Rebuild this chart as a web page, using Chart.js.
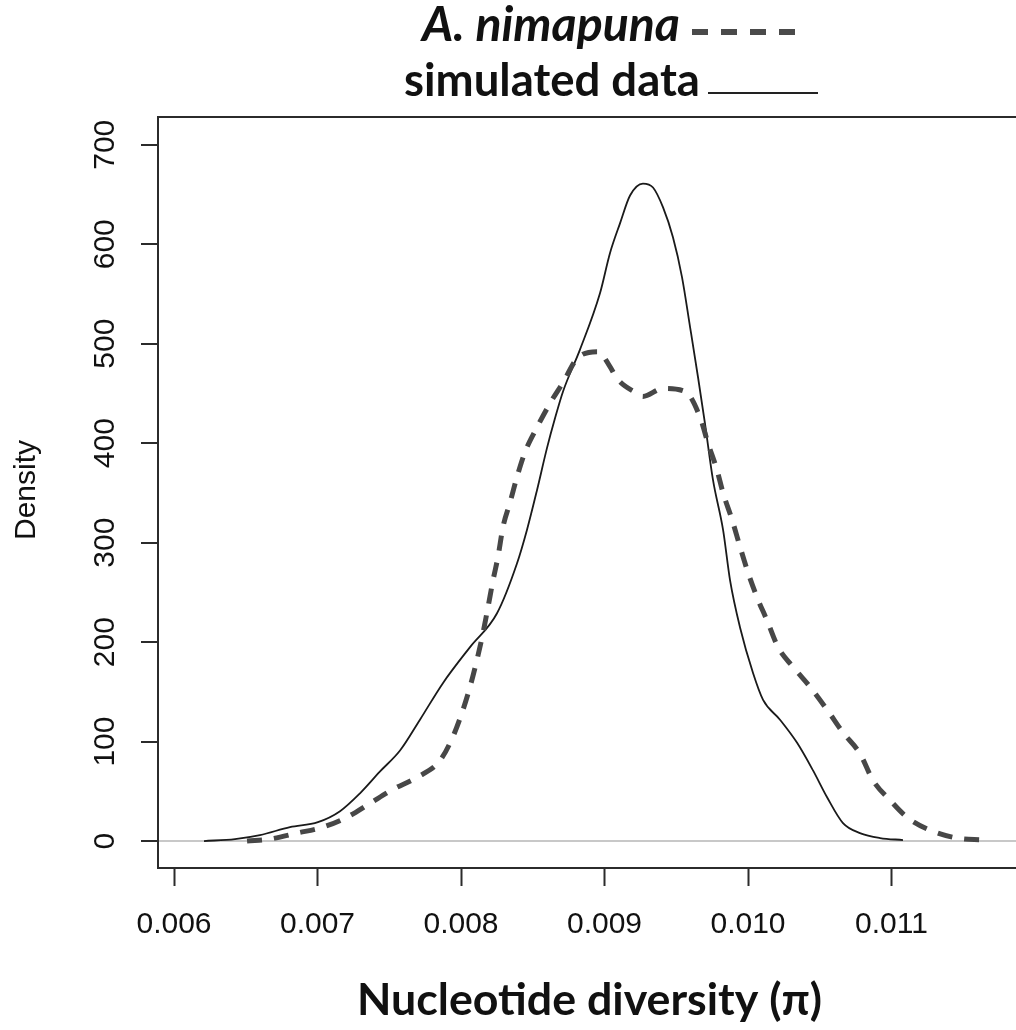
<!DOCTYPE html>
<html><head><meta charset="utf-8">
<script src="https://cdn.jsdelivr.net/npm/chart.js@4/dist/chart.umd.min.js"></script>
<style>
html,body{margin:0;padding:0;background:#fff;overflow:hidden;width:1016px;height:1030px}
#wrap{position:absolute;left:0;top:0;width:1050px;height:1030px}
</style>
</head><body><div id="wrap"><canvas id="c" width="1050" height="1030"></canvas></div>
<script>
// ---- data ----
const xTicks = [0.006, 0.007, 0.008, 0.009, 0.010, 0.011];
const xTickLabels = ['0.006', '0.007', '0.008', '0.009', '0.010', '0.011'];
const yTicks = [0, 100, 200, 300, 400, 500, 600, 700];
const yTickLabels = ['0', '100', '200', '300', '400', '500', '600', '700'];
const seriesNames = ['A. nimapuna', 'simulated data'];
const xTitle = 'Nucleotide diversity (\u03C0)';
const yTitle = 'Density';

const nimX = [0.006509,0.006669,0.006857,0.007038,0.007206,0.007366,0.007526,0.007693,0.007854,0.007944,0.008007,0.008063,0.008111,0.008153,0.008188,0.008223,0.008258,0.008293,0.008341,0.008390,0.008446,0.008530,0.008620,0.008711,0.008815,0.008955,0.009038,0.009087,0.009226,0.009268,0.009408,0.009561,0.009666,0.009721,0.009784,0.009826,0.009889,0.009944,0.010000,0.010063,0.010132,0.010209,0.010314,0.010432,0.010551,0.010662,0.010780,0.010871,0.010990,0.011108,0.011268,0.011456,0.011638];
const nimY = [0,2,8,14,24,38,52,64,81,105,129,155,182,209,235,262,286,316,340,366,391,416,440,461,486,492,477,465,450,447,455,452,426,400,373,350,323,296,270,245,222,195,175,155,132,109,88,61,41,24,11,3,1];

const simX = [0.006209,0.006425,0.006599,0.006808,0.007003,0.007157,0.007296,0.007436,0.007575,0.007714,0.007875,0.008063,0.008251,0.008390,0.008460,0.008530,0.008599,0.008655,0.008711,0.008829,0.008969,0.009038,0.009108,0.009178,0.009268,0.009338,0.009408,0.009477,0.009540,0.009596,0.009652,0.009700,0.009756,0.009826,0.009875,0.009944,0.010035,0.010105,0.010223,0.010341,0.010453,0.010551,0.010662,0.010780,0.010920,0.011080];
const simY = [0,2,6,14,19,30,48,70,91,122,159,195,229,279,313,353,395,425,452,494,551,591,621,649,661,657,637,607,567,517,466,420,363,313,262,215,169,142,122,99,71,44,18,8,3,1];

// ---- styling ----
const TICK_FONT = '30px "Liberation Sans", Arial, sans-serif';
const TITLE_FAMILY = 'Lato, "Open Sans", sans-serif';
const INK = '#111111';

function fitFont(ctx, text, prefix, target) {
  ctx.font = prefix + ' 100px ' + TITLE_FAMILY;
  const w = ctx.measureText(text).width;
  return prefix + ' ' + (100 * target / w).toFixed(2) + 'px ' + TITLE_FAMILY;
}

const decor = {
  id: 'decor',
  beforeDatasetsDraw(chart) {
    const {ctx, chartArea: a} = chart;
    ctx.save();
    ctx.strokeStyle = '#2b2b2b';
    ctx.lineWidth = 2;
    ctx.strokeRect(a.left, a.top, a.right - a.left, a.bottom - a.top);
    ctx.restore();
  },
  afterDraw(chart) {
    const {ctx} = chart;
    const ys = chart.scales.y;
    ctx.save();
    ctx.fillStyle = INK;
    // rotated y tick labels
    ctx.font = TICK_FONT;
    ctx.textAlign = 'center';
    ctx.textBaseline = 'alphabetic';
    yTicks.forEach((v, i) => {
      const py = ys.getPixelForValue(v);
      ctx.save();
      ctx.translate(114, py);
      ctx.rotate(-Math.PI / 2);
      ctx.fillText(yTickLabels[i], 0, 0);
      ctx.restore();
    });
    // y title
    ctx.save();
    ctx.translate(35, 490);
    ctx.rotate(-Math.PI / 2);
    ctx.fillText(yTitle, 0, 0);
    ctx.restore();
    // x title
    ctx.textAlign = 'left';
    ctx.font = fitFont(ctx, xTitle, 'bold', 465);
    ctx.fillText(xTitle, 357, 1015);
    // legend-title line 1
    ctx.font = fitFont(ctx, seriesNames[0], 'italic bold', 258);
    ctx.fillText(seriesNames[0], 422, 41);
    ctx.strokeStyle = '#4a4a4a';
    ctx.lineWidth = 6;
    ctx.setLineDash([16, 13]);
    ctx.beginPath(); ctx.moveTo(692, 32); ctx.lineTo(808, 32); ctx.stroke();
    // legend-title line 2
    ctx.setLineDash([]);
    ctx.font = fitFont(ctx, seriesNames[1], 'bold', 296);
    ctx.fillText(seriesNames[1], 404, 96);
    ctx.strokeStyle = '#222';
    ctx.lineWidth = 2;
    ctx.beginPath(); ctx.moveTo(708, 93); ctx.lineTo(818, 93); ctx.stroke();
    ctx.restore();
  }
};

const toPts = (xs, ys) => xs.map((x, i) => ({x, y: ys[i]}));

new Chart(document.getElementById('c'), {
  type: 'line',
  data: {
    datasets: [
      {
        label: seriesNames[0],
        data: toPts(nimX, nimY),
        borderColor: '#474747',
        borderWidth: 5,
        borderDash: [15, 12],
        borderCapStyle: 'butt',
        pointRadius: 0,
        cubicInterpolationMode: 'monotone',
        fill: false
      },
      {
        label: seriesNames[1],
        data: toPts(simX, simY),
        borderColor: '#1a1a1a',
        borderWidth: 1.8,
        pointRadius: 0,
        cubicInterpolationMode: 'monotone',
        fill: false
      }
    ]
  },
  options: {
    responsive: false,
    animation: false,
    devicePixelRatio: 1,
    layout: {padding: {left: 0, top: 117, right: 10, bottom: 0}},
    plugins: {legend: {display: false}, tooltip: {enabled: false}, title: {display: false}},
    scales: {
      x: {
        type: 'linear',
        min: 0.0058885,
        max: 0.0120348,
        afterBuildTicks: s => { s.ticks = xTicks.map(v => ({value: v})); },
        afterFit: s => { s.height = 162; },
        ticks: {
          callback: (v, i) => xTickLabels[i],
          font: {family: '"Liberation Sans", Arial, sans-serif', size: 30},
          color: INK,
          padding: 21,
          maxRotation: 0,
          autoSkip: false
        },
        grid: {drawOnChartArea: false, drawTicks: true, tickLength: 18, tickColor: '#2b2b2b', tickWidth: 2},
        border: {display: false}
      },
      y: {
        type: 'linear',
        min: -27.1,
        max: 727.9,
        afterBuildTicks: s => { s.ticks = yTicks.map(v => ({value: v})); },
        afterFit: s => { s.width = 158; },
        ticks: {display: false},
        grid: {
          drawOnChartArea: true,
          drawTicks: true,
          tickLength: 17,
          color: c => (c.tick && c.tick.value === 0) ? '#c8c8c8' : 'rgba(0,0,0,0)',
          lineWidth: 2,
          tickColor: '#2b2b2b',
          tickWidth: 2
        },
        border: {display: false}
      }
    }
  },
  plugins: [decor]
});
</script>
</body></html>
